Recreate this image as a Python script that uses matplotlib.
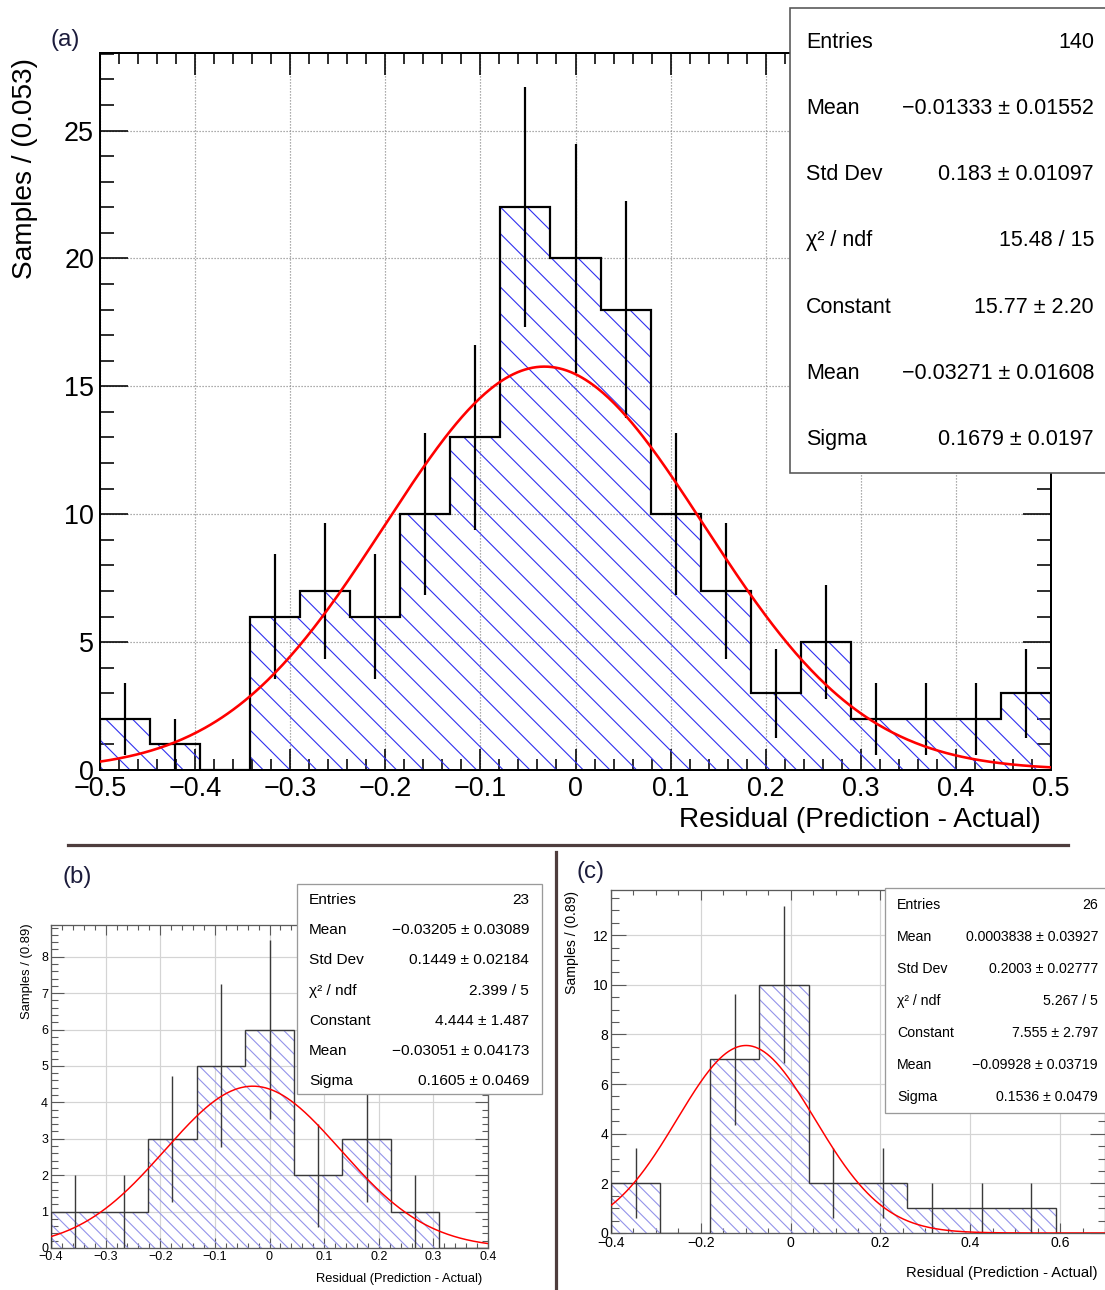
import numpy as np
import matplotlib
matplotlib.use('Agg')
import matplotlib.pyplot as plt
from matplotlib.patches import Rectangle
from matplotlib.lines import Line2D
from matplotlib.ticker import MultipleLocator, FuncFormatter

plt.rcParams['font.family'] = ['Liberation Sans', 'DejaVu Sans']
plt.rcParams['hatch.linewidth'] = 1.0

W, H, DPI = 1105, 1290, 80

# ---- data ----
# (a) all samples
a_range = (-0.5, 0.5)
a_counts = [2, 1, 0, 6, 7, 6, 10, 13, 22, 20, 18, 10, 7, 3, 5, 2, 2, 2, 3]
a_fit = (15.77, -0.03271, 0.1679)   # constant, mean, sigma
a_stats = ['140', '\u22120.01333 \u00b1 0.01552', '0.183 \u00b1 0.01097', '15.48 / 15',
           '15.77 \u00b1 2.20', '\u22120.03271 \u00b1 0.01608', '0.1679 \u00b1 0.0197']

# (b)
b_range = (-0.4, 0.4)
b_counts = [1, 1, 3, 5, 6, 2, 3, 1, 0]
b_fit = (4.444, -0.03051, 0.1605)
b_stats = ['23', '\u22120.03205 \u00b1 0.03089', '0.1449 \u00b1 0.02184', '2.399 / 5',
           '4.444 \u00b1 1.487', '\u22120.03051 \u00b1 0.04173', '0.1605 \u00b1 0.0469']

# (c)
c_range = (-0.4, 0.7)
c_counts = [2, 0, 7, 10, 2, 2, 1, 1, 1, 0]
c_fit = (7.555, -0.09928, 0.1536)
c_stats = ['26', '0.0003838 \u00b1 0.03927', '0.2003 \u00b1 0.02777', '5.267 / 5',
           '7.555 \u00b1 2.797', '\u22120.09928 \u00b1 0.03719', '0.1536 \u00b1 0.0479']

stat_names = ['Entries', 'Mean', 'Std Dev', '\u03c7\u00b2 / ndf', 'Constant', 'Mean', 'Sigma']
xtitle = 'Residual (Prediction - Actual)'


def pt(px):
    return px * 72.0 / DPI


def fx(px):
    return px / W


def fy(py):
    return 1 - py / H


def fmt(v, p):
    if abs(v) < 1e-9:
        return '0'
    return ('%g' % round(v, 6)).replace('-', '\u2212')


fig = plt.figure(figsize=(W / DPI, H / DPI), dpi=DPI)


def panel(box, counts, rng, fit, ymax, xmaj, xmin, ymaj, ymin, st):
    l, t, r, b = box
    ax = fig.add_axes([fx(l), fy(b), fx(r - l), (b - t) / H])
    edges = np.linspace(rng[0], rng[1], len(counts) + 1)
    centers = 0.5 * (edges[:-1] + edges[1:])
    c = np.asarray(counts, float)
    ax.stairs(c, edges, fill=True, hatch=st['hatch'], edgecolor=st['hcol'],
              facecolor='none', linewidth=0, zorder=2)
    ax.stairs(c, edges, color=st['lcol'], linewidth=st['lw'], zorder=3)
    m = c > 0
    ax.errorbar(centers[m], c[m], yerr=np.sqrt(c[m]), fmt='none', ecolor=st['lcol'],
                elinewidth=st['lw'], capsize=0, zorder=4)
    xs = np.linspace(rng[0], rng[1], 500)
    ax.plot(xs, fit[0] * np.exp(-0.5 * ((xs - fit[1]) / fit[2]) ** 2),
            color='red', lw=st['flw'], zorder=5)
    ax.set_xlim(rng)
    ax.set_ylim(0, ymax)
    ax.xaxis.set_major_locator(MultipleLocator(xmaj))
    ax.xaxis.set_minor_locator(MultipleLocator(xmin))
    ax.yaxis.set_major_locator(MultipleLocator(ymaj))
    ax.yaxis.set_minor_locator(MultipleLocator(ymin))
    ax.xaxis.set_major_formatter(FuncFormatter(fmt))
    ax.yaxis.set_major_formatter(FuncFormatter(fmt))
    ax.set_axisbelow(True)
    ax.grid(True, which='major', color=st['gcol'], linestyle=st['gls'], linewidth=st['glw'])
    ax.tick_params(which='both', direction='in', top=True, right=True,
                   color=st['scol'], width=st['tw'], labelsize=st['fs'])
    ax.tick_params(axis='x', which='major', length=st['xmaj'], pad=st['pad'])
    ax.tick_params(axis='x', which='minor', length=st['xmaj'] / 2)
    ax.tick_params(axis='y', which='major', length=st['ymaj'], pad=st['pad'])
    ax.tick_params(axis='y', which='minor', length=st['ymaj'] / 2)
    for s in ax.spines.values():
        s.set_color(st['scol'])
        s.set_linewidth(st['slw'])
    return ax


def stats_box(l, t, r, b, x0, x1, y0, dy, values, size, ecol, elw):
    fig.add_artist(Rectangle((fx(l), fy(b)), fx(r - l), (b - t) / H, transform=fig.transFigure,
                             facecolor='white', edgecolor=ecol, linewidth=elw, zorder=5))
    for i, (nm, v) in enumerate(zip(stat_names, values)):
        y = fy(y0 + i * dy)
        fig.text(fx(x0), y, nm, ha='left', va='center', fontsize=size, zorder=6)
        fig.text(fx(x1), y, v, ha='right', va='center', fontsize=size, zorder=6)


style_a = dict(hatch='\\', hcol='#3030f0', lcol='black', lw=pt(2.2), flw=pt(2.6),
               gcol='#8a8a8a', gls=(0, (1, 1.5)), glw=pt(1.2), scol='black', slw=pt(2),
               tw=pt(1.6), fs=pt(27), xmaj=pt(21.5), ymaj=pt(28), pad=pt(6))
style_s = dict(hatch='\\\\', hcol='#9494ea', lcol='#3a3a3a', lw=pt(1.4), flw=pt(1.5),
               gcol='#d4d4d4', gls='-', glw=pt(1.2), scol='#5a5a5a', slw=pt(1.3),
               tw=pt(1.1), fs=pt(12.5), xmaj=pt(10), ymaj=pt(13), pad=pt(3))
style_c = dict(style_s, fs=pt(14), ymaj=pt(15))

# (a)
panel((100, 53, 1051, 770), a_counts, a_range, a_fit, 28.03, 0.1, 0.02, 5, 1, style_a)
fig.text(fx(25), fy(58), 'Samples / (0.053)', rotation=90, ha='center', va='top', fontsize=pt(28))
fig.text(fx(1041), fy(820), xtitle, ha='right', va='center', fontsize=pt(28))
fig.text(fx(50), fy(40), '(a)', ha='left', va='center', fontsize=pt(24), color='#1c1c3c')
stats_box(790, 8, 1125, 473, 806, 1094, 42, 66.3, a_stats, pt(21.5), '#555555', pt(1.6))

# (b)
panel((51, 925, 488, 1248), b_counts, b_range, b_fit, 8.87, 0.1, 0.02, 1, 0.2, style_s)
fig.text(fx(27), fy(923), 'Samples / (0.89)', rotation=90, ha='center', va='top', fontsize=pt(13))
fig.text(fx(482), fy(1279), xtitle, ha='right', va='center', fontsize=pt(12.9))
fig.text(fx(63), fy(877), '(b)', ha='left', va='center', fontsize=pt(24), color='#1c1c3c')
stats_box(297, 884, 542, 1094, 309, 529, 900, 30.17, b_stats, pt(15.4), '#9a9a9a', pt(1.3))

# (c)
panel((611, 890, 1105, 1233), c_counts, c_range, c_fit, 13.82, 0.2, 0.05, 2, 0.5, style_c)
fig.text(fx(572), fy(891), 'Samples / (0.89)', rotation=90, ha='center', va='top', fontsize=pt(14))
fig.text(fx(1098), fy(1273), xtitle, ha='right', va='center', fontsize=pt(14.7))
fig.text(fx(577), fy(872), '(c)', ha='left', va='center', fontsize=pt(24), color='#1c1c3c')
stats_box(885, 888, 1125, 1113, 897, 1098, 905, 32, c_stats, pt(14.1), '#9a9a9a', pt(1.3))

# separators between the panels
fig.add_artist(Line2D([fx(68), fx(1068)], [fy(845), fy(845)], transform=fig.transFigure,
                      color='#4e3d3d', linewidth=pt(3.2)))
fig.add_artist(Line2D([fx(556), fx(556)], [fy(852), fy(1292)], transform=fig.transFigure,
                      color='#4e3d3d', linewidth=pt(3.2)))

fig.savefig('out.png', dpi=DPI)
plt.close(fig)
